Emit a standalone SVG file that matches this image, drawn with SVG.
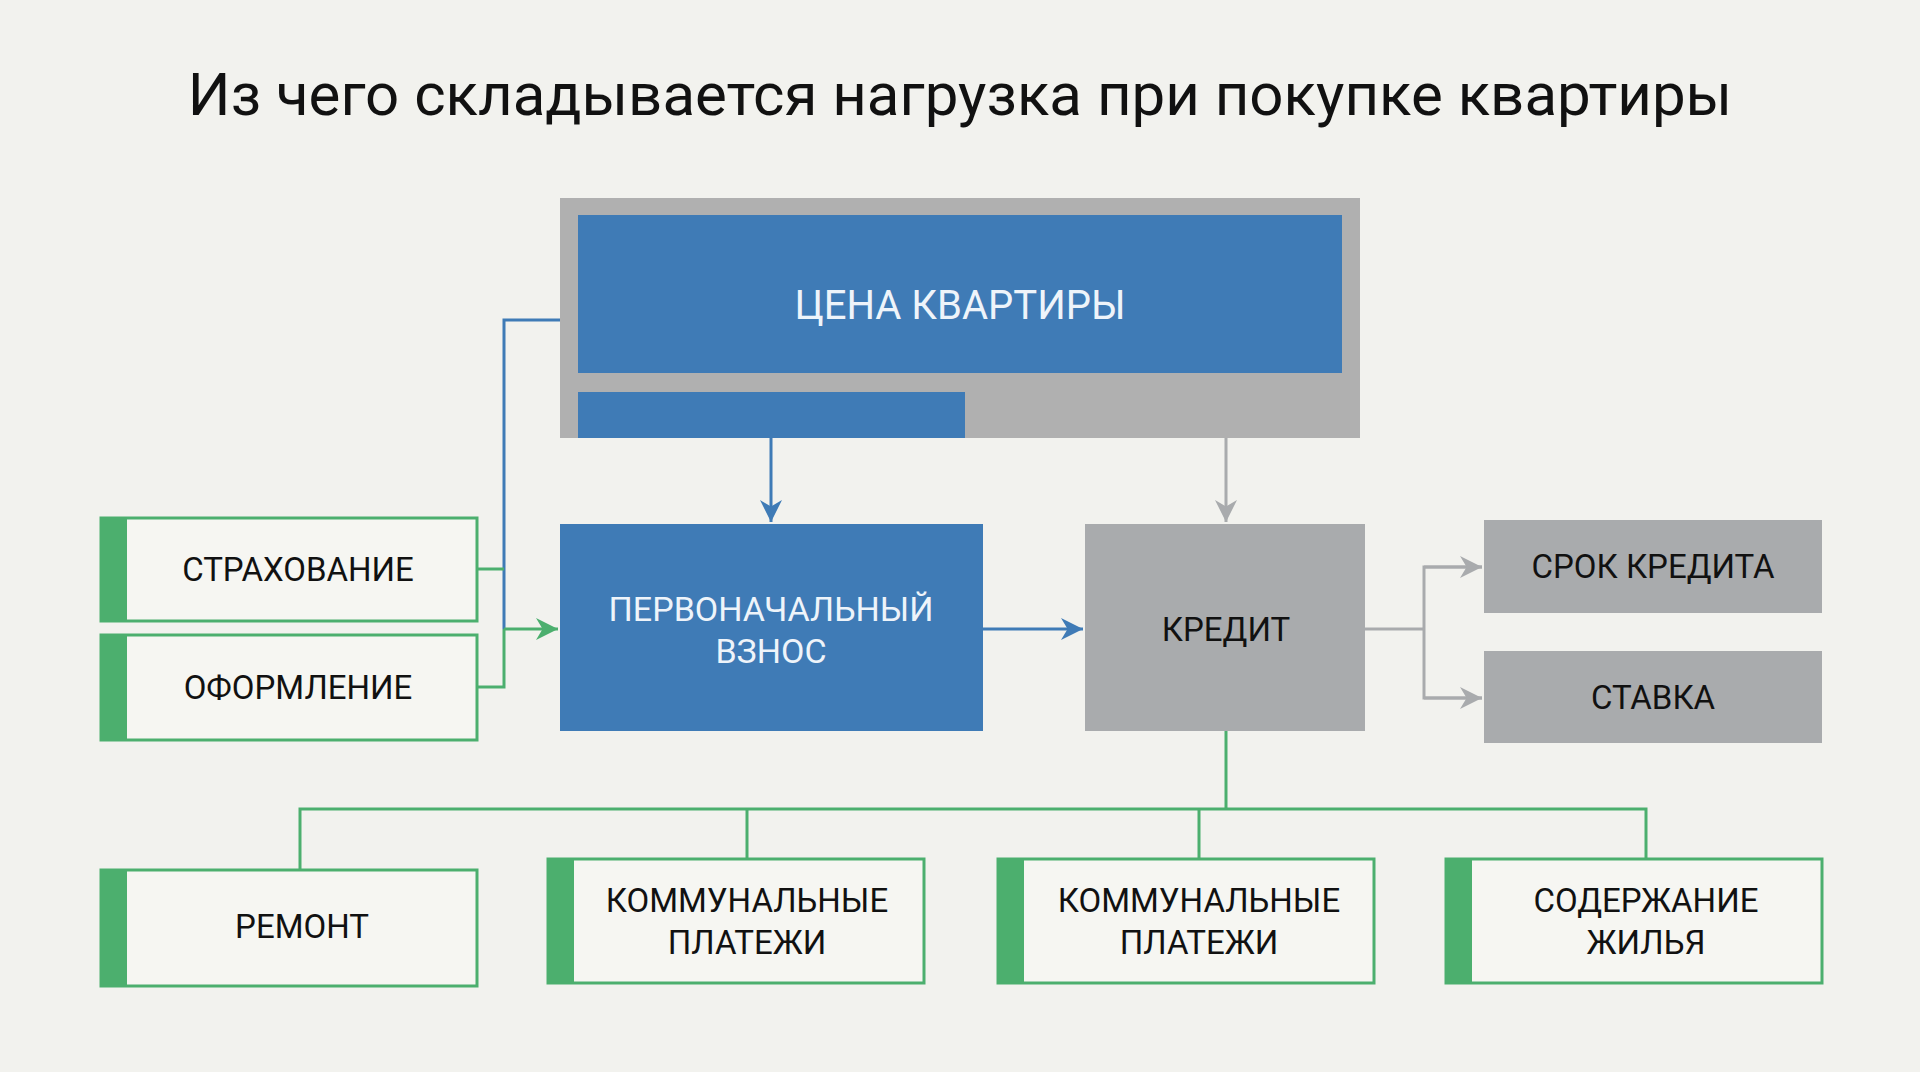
<svg xmlns="http://www.w3.org/2000/svg" width="1920" height="1072" viewBox="0 0 1920 1072">
<style>
text{font-family:"Roboto","Liberation Sans",sans-serif;text-anchor:middle}
.t{font-size:33px;fill:#111}
.w{font-size:34px;fill:#eef4fa}
.gb{fill:#f6f6f2;stroke:#4caf6e;stroke-width:3}
.gs{fill:#4caf6e}
.gl{fill:none;stroke:#4caf6e;stroke-width:3}
.bl{fill:none;stroke:#3f7bb6;stroke-width:3}
.yl{fill:none;stroke:#a9abad;stroke-width:3}
</style>
<defs>
<marker id="ab" markerWidth="10" markerHeight="10" refX="9" refY="5" orient="auto" markerUnits="userSpaceOnUse" viewBox="0 0 10 10"><path d="M0,0L10,5L0,10z" fill="#3f7bb6" transform="scale(1)"/></marker>
<marker id="abB" viewBox="0 0 10 10" refX="10" refY="5" markerWidth="22" markerHeight="22" markerUnits="userSpaceOnUse" orient="auto"><path d="M0,0L10,5L0,10L3,5z" fill="#3f7bb6"/></marker>
<marker id="agB" viewBox="0 0 10 10" refX="10" refY="5" markerWidth="22" markerHeight="22" markerUnits="userSpaceOnUse" orient="auto"><path d="M0,0L10,5L0,10L3,5z" fill="#4caf6e"/></marker>
<marker id="ayB" viewBox="0 0 10 10" refX="10" refY="5" markerWidth="22" markerHeight="22" markerUnits="userSpaceOnUse" orient="auto"><path d="M0,0L10,5L0,10L3,5z" fill="#a9abad"/></marker>
</defs>
<rect width="1920" height="1072" fill="#f2f2ee"/>
<text x="960" y="115" style="font-size:60px;fill:#111">Из чего складывается нагрузка при покупке квартиры</text>

<g id="connectors">
<path class="bl" d="M560,320H504V629" />
<path class="gl" d="M504,629H558" marker-end="url(#agB)"/>
<path class="gl" d="M477,569H504M477,687H504V629"/>
<path class="bl" d="M771,438V522" marker-end="url(#abB)"/>
<path class="yl" d="M1226,438V522" marker-end="url(#ayB)"/>
<path class="bl" d="M983,629H1083" marker-end="url(#abB)"/>
<path class="yl" d="M1365,629H1424V567H1482M1424,629V698H1482"/>
<path class="yl" d="M1424,567H1482" marker-end="url(#ayB)"/>
<path class="yl" d="M1424,698H1482" marker-end="url(#ayB)"/>
<path class="gl" d="M1226,731V809M300,869V809H1646V858M747,809V858M1199,809V858"/>
</g>

<g id="price">
<rect x="560" y="198" width="800" height="240" fill="#b0b0b0"/>
<rect x="578" y="215" width="764" height="158" fill="#3f7bb6"/>
<rect x="578" y="392" width="387" height="46" fill="#3f7bb6"/>
<text class="w" x="960" y="319" style="font-size:40px">ЦЕНА КВАРТИРЫ</text>
</g>
<g id="insurance"><rect class="gb" x="101" y="518" width="376" height="103"/><rect class="gs" x="100" y="517" width="27" height="105"/><text class="t" x="298" y="581">СТРАХОВАНИЕ</text></g>
<g id="paperwork"><rect class="gb" x="101" y="635" width="376" height="105"/><rect class="gs" x="100" y="634" width="27" height="107"/><text class="t" x="298" y="699">ОФОРМЛЕНИЕ</text></g>
<g id="downpayment"><rect x="560" y="524" width="423" height="207" fill="#3f7bb6"/><text class="w" x="771" y="621">ПЕРВОНАЧАЛЬНЫЙ</text><text class="w" x="771" y="663">ВЗНОС</text></g>
<g id="credit"><rect x="1085" y="524" width="280" height="207" fill="#a9abad"/><text class="t" x="1226" y="641">КРЕДИТ</text></g>
<g id="term"><rect x="1484" y="520" width="338" height="93" fill="#a9abad"/><text class="t" x="1653" y="578">СРОК КРЕДИТА</text></g>
<g id="rate"><rect x="1484" y="651" width="338" height="92" fill="#a9abad"/><text class="t" x="1653" y="709">СТАВКА</text></g>
<g id="repair"><rect class="gb" x="101" y="870" width="376" height="116"/><rect class="gs" x="100" y="869" width="27" height="118"/><text class="t" x="302" y="938">РЕМОНТ</text></g>
<g id="utilities1"><rect class="gb" x="548" y="859" width="376" height="124"/><rect class="gs" x="547" y="858" width="27" height="126"/><text class="t" x="747" y="912">КОММУНАЛЬНЫЕ</text><text class="t" x="747" y="954">ПЛАТЕЖИ</text></g>
<g id="utilities2"><rect class="gb" x="998" y="859" width="376" height="124"/><rect class="gs" x="997" y="858" width="27" height="126"/><text class="t" x="1199" y="912">КОММУНАЛЬНЫЕ</text><text class="t" x="1199" y="954">ПЛАТЕЖИ</text></g>
<g id="upkeep"><rect class="gb" x="1446" y="859" width="376" height="124"/><rect class="gs" x="1445" y="858" width="27" height="126"/><text class="t" x="1646" y="912">СОДЕРЖАНИЕ</text><text class="t" x="1646" y="954">ЖИЛЬЯ</text></g>
</svg>
